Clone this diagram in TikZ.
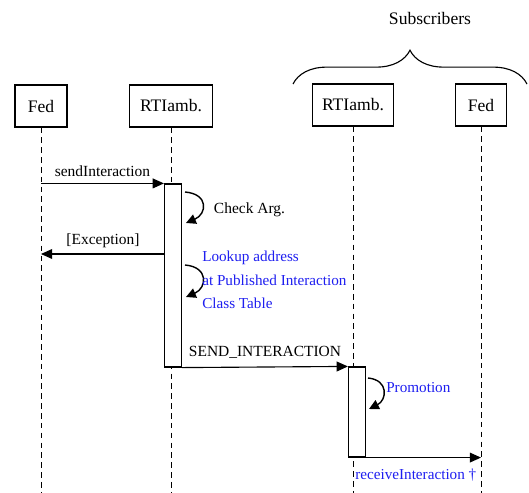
\documentclass[tikz,border=0pt]{standalone}
\usepackage{fontspec}
\setmainfont{Liberation Serif}
\usetikzlibrary{arrows.meta,positioning,decorations.pathreplacing}
\definecolor{notecolor}{RGB}{30,30,240}

\begin{document}
\begin{tikzpicture}[x=0.025cm, y=-0.025cm,
    actor/.style={draw, line width=0.8pt, minimum height=1.05cm, inner sep=0pt, font=\fontsize{12.5}{14}\selectfont},
    activation/.style={draw, line width=0.8pt, fill=white, minimum width=0.425cm, inner sep=0pt},
    lifeline/.style={dash pattern=on 4pt off 3pt, line width=0.6pt},
    msg/.style={-{Stealth[length=8pt, width=7pt, inset=0pt]}, line width=0.8pt},
    selfcall/.style={-{Stealth[length=7pt, width=7pt, inset=0pt]}, line width=1pt},
    lbl/.style={font=\fontsize{11}{13}\selectfont},
    note/.style={font=\fontsize{10.8}{16.5}\selectfont, text=notecolor, align=left, inner sep=0pt}
]
    \useasboundingbox (0,0) rectangle (529,493);
    \coordinate (bot) at (0,493);

    % Objects
    \node[actor, minimum width=1.3cm] (fed1) at (41,106) {Fed};
    \node[actor, minimum width=2.07cm] (rti1) at (171,106) {RTIamb.};
    \node[actor, minimum width=2.03cm] (rti2) at (353,105) {RTIamb.};
    \node[actor, minimum width=1.28cm] (fed2) at (481,105) {Fed};

    % Subscribers
    \coordinate (brl) at (293,84);
    \coordinate (brr) at (527,84);
    \draw[decorate, decoration={brace, amplitude=24pt}, line width=0.8pt] (brl) -- (brr);
    \node[font=\fontsize{12.5}{14}\selectfont] (subs) at (430,18) {Subscribers};

    % Lifelines
    \draw[lifeline] (fed1.south) -- (fed1.south |- bot);
    \draw[lifeline] (rti1.south) -- (rti1.south |- bot);
    \draw[lifeline] (rti2.south) -- (rti2.south |- bot);
    \draw[lifeline] (fed2.south) -- (fed2.south |- bot);

    % Activations
    \node[activation, minimum height=4.575cm] (act1) at (173,275.5) {};
    \node[activation, minimum height=2.25cm] (act2) at (357,412) {};

    % Messages
    \draw[msg] (fed1.south |- act1.north) -- (act1.north west) node[midway, above=1pt, lbl] {sendInteraction};
    \coordinate (exc) at (165,254);
    \draw[msg] (exc) -- (exc -| fed1.south) node[midway, above=1pt, lbl] {[Exception]};
    \draw[msg] (act1.south east) -- (act2.north west) node[midway, above=2pt, lbl] {SEND\_INTERACTION};
    \draw[msg] (act2.south east) -- (act2.south east -| fed2.south);

    % Self calls
    \coordinate (chk1) at (185,192);
    \coordinate (chk2) at (186,223);
    \draw[selfcall] (chk1) .. controls (209,194) and (207,214) .. (chk2);
    \coordinate (look1) at (185,265);
    \coordinate (look2) at (186,297);
    \draw[selfcall] (look1) .. controls (209,267) and (207,288) .. (look2);
    \coordinate (prom1) at (368,378);
    \coordinate (prom2) at (369,409);
    \draw[selfcall] (prom1) .. controls (389,380) and (387,400) .. (prom2);

    % Notes
    \node[lbl, anchor=west] (chklbl) at (209,210) {Check Arg.};
    \node[note, anchor=west] (lookuplbl) at (202,280) {Lookup address\\at Published Interaction\\Class Table};
    \node[note, anchor=west] (promlbl) at (386,388) {Promotion};
    \node[note, anchor=west] (recvlbl) at (355,475) {receiveInteraction \textdagger};
\end{tikzpicture}
\end{document}
